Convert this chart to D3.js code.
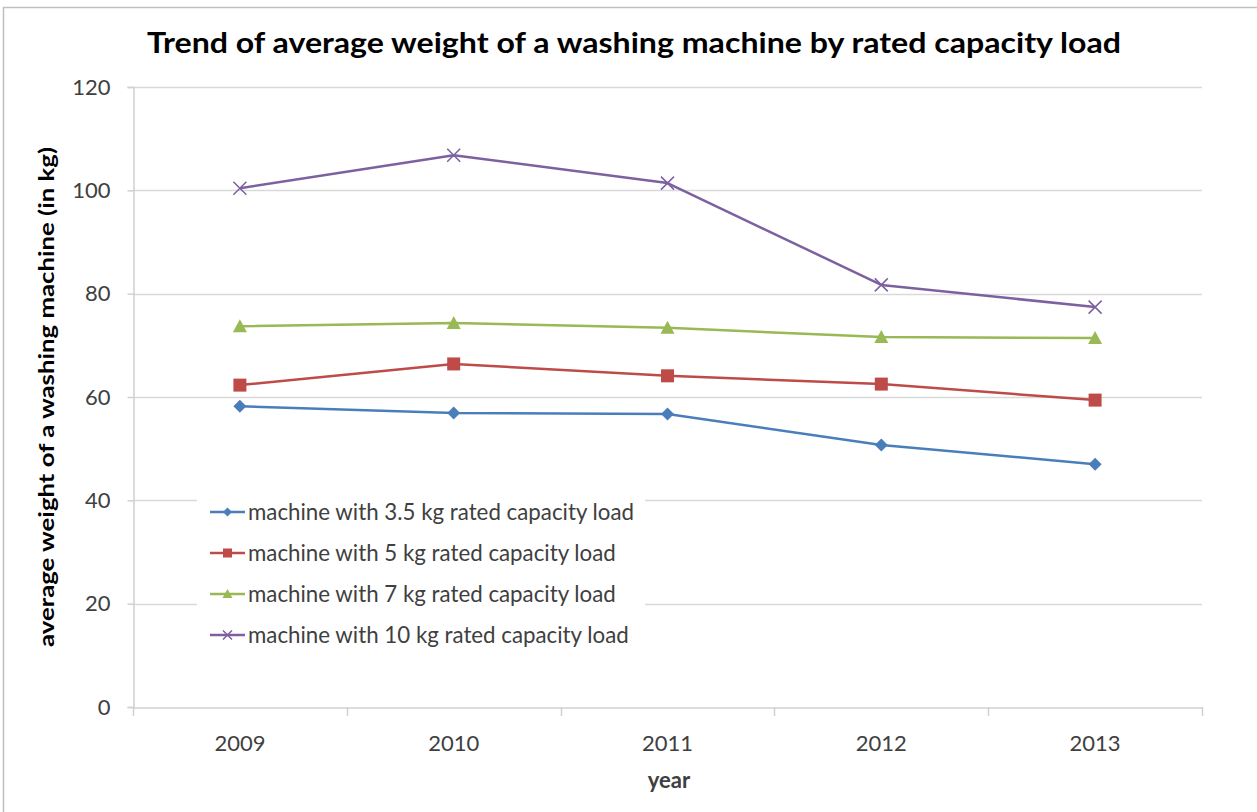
<!DOCTYPE html>
<html><head><meta charset="utf-8">
<script src="https://cdn.jsdelivr.net/npm/d3@7"></script>
<style>body{margin:0;background:#fff}svg{display:block}</style>
</head><body>
<svg id="c" width="1257" height="812"></svg>
<script>
const years = ["2009","2010","2011","2012","2013"];
const s35 = [58.2, 56.9, 56.7, 50.7, 47.0];
const s5  = [62.3, 66.4, 64.1, 62.5, 59.4];
const s7  = [73.7, 74.3, 73.4, 71.6, 71.4];
const s10 = [100.4, 106.8, 101.4, 81.7, 77.4];
const seriesNames = ["machine with 3.5 kg rated capacity load","machine with 5 kg rated capacity load","machine with 7 kg rated capacity load","machine with 10 kg rated capacity load"];
const yTicks = [0,20,40,60,80,100,120];
const colors = ["#4a7ebb","#be4b48","#98b954","#7d60a0"];
const shapes = ["diamond","square","triangle","x"];
const series = [s35,s5,s7,s10].map((v,i)=>({name:seriesNames[i],values:v,color:colors[i],shape:shapes[i]}));

const svg = d3.select("#c");
const font = "Lato, 'Open Sans', sans-serif";
svg.append("rect").attr("x",3.5).attr("y",7.5).attr("width",1262).attr("height",812).attr("fill","#fff").attr("stroke","#bfbfbf").attr("stroke-width",1.5);

const x = d3.scaleBand().domain(years).range([133,1202]);
const y = d3.scaleLinear().domain([0,120]).range([707,87]);

// grid
svg.append("g").selectAll("line").data(yTicks.filter(d=>d>0)).join("line")
 .attr("x1",133).attr("x2",1202).attr("y1",d=>Math.round(y(d))+0.5).attr("y2",d=>Math.round(y(d))+0.5)
 .attr("stroke","#d9d9d9").attr("stroke-width",1.5);

// y axis
const ya = svg.append("g").attr("transform","translate(133.5,0)")
 .call(d3.axisLeft(y).tickValues(yTicks).tickSize(6).tickPadding(17));
ya.select(".domain").attr("stroke","#d0d0d0").attr("stroke-width",1.5);
ya.selectAll(".tick line").attr("stroke","#d0d0d0").attr("stroke-width",1.5);
ya.selectAll("text").attr("font-family",font).attr("font-size",22).attr("fill","#404040");

// x axis
const xa = svg.append("g").attr("transform","translate(0,707.5)")
 .call(d3.axisBottom(x).tickSize(0).tickPadding(28));
xa.select(".domain").attr("stroke","#d0d0d0").attr("stroke-width",1.5);
xa.selectAll("text").attr("font-family",font).attr("font-size",22).attr("fill","#404040");
const bounds = years.map(d=>x(d)).concat([x.range()[1]]);
svg.append("g").selectAll("line").data(bounds).join("line")
 .attr("x1",d=>Math.round(d)+0.5).attr("x2",d=>Math.round(d)+0.5).attr("y1",707).attr("y2",716)
 .attr("stroke","#d0d0d0").attr("stroke-width",1.5);

// legend background (covers grid)
const lg = svg.append("g");
lg.append("rect").attr("x",197).attr("y",493).attr("width",448).attr("height",162).attr("fill","#fff");

function marker(g, shape, color, size){
  if(shape==="diamond") g.append("path").attr("d",`M0,${-size}L${size},0L0,${size}L${-size},0Z`).attr("fill",color);
  else if(shape==="square") g.append("rect").attr("x",-size).attr("y",-size).attr("width",2*size).attr("height",2*size).attr("fill",color);
  else if(shape==="triangle") g.append("path").attr("d",`M0,${-size-1}L${size+1},${size}L${-size-1},${size}Z`).attr("fill",color);
  else g.append("path").attr("d",`M${-size},${-size}L${size},${size}M${-size},${size}L${size},${-size}`).attr("stroke",color).attr("stroke-width",1.5).attr("fill","none");
}
const msz = {diamond:6.5,square:6.5,triangle:6,x:6.5};

const line = d3.line().x((d,i)=>x(years[i])+x.bandwidth()/2).y(d=>y(d));
series.forEach(s=>{
  svg.append("path").datum(s.values).attr("d",line).attr("fill","none").attr("stroke",s.color).attr("stroke-width",2.5).attr("stroke-linejoin","round");
  s.values.forEach((v,i)=>{
    const g = svg.append("g").attr("transform",`translate(${x(years[i])+x.bandwidth()/2},${y(v)})`);
    marker(g,s.shape,s.color,msz[s.shape]);
  });
});

// legend items
series.forEach((s,i)=>{
  const yy = 512 + i*41;
  lg.append("line").attr("x1",210).attr("x2",245).attr("y1",yy).attr("y2",yy).attr("stroke",s.color).attr("stroke-width",2.5);
  const g = lg.append("g").attr("transform",`translate(227.5,${yy})`);
  marker(g,s.shape,s.color,msz[s.shape]-2);
  lg.append("text").attr("x",248).attr("y",yy).attr("dy","0.35em").attr("font-family",font).attr("font-size",22.3).attr("fill","#404040").text(s.name);
});

// title
svg.append("text").attr("x",634).attr("y",53).attr("text-anchor","middle").attr("font-family",font).attr("font-weight","bold").attr("font-size",28).attr("fill","#000")
 .attr("textLength",974).attr("lengthAdjust","spacingAndGlyphs")
 .text("Trend of average weight of a washing machine by rated capacity load");
// axis titles
svg.append("text").attr("x",669).attr("y",788).attr("text-anchor","middle").attr("font-family",font).attr("font-weight","bold").attr("font-size",22).attr("fill","#404040").text("year");
svg.append("text").attr("transform","translate(54,397) rotate(-90)").attr("text-anchor","middle").attr("font-family",font).attr("font-weight","bold").attr("font-size",20).attr("fill","#000")
 .attr("textLength",500).attr("lengthAdjust","spacingAndGlyphs")
 .text("average weight of a washing machine (in kg)");
</script>
</body></html>
